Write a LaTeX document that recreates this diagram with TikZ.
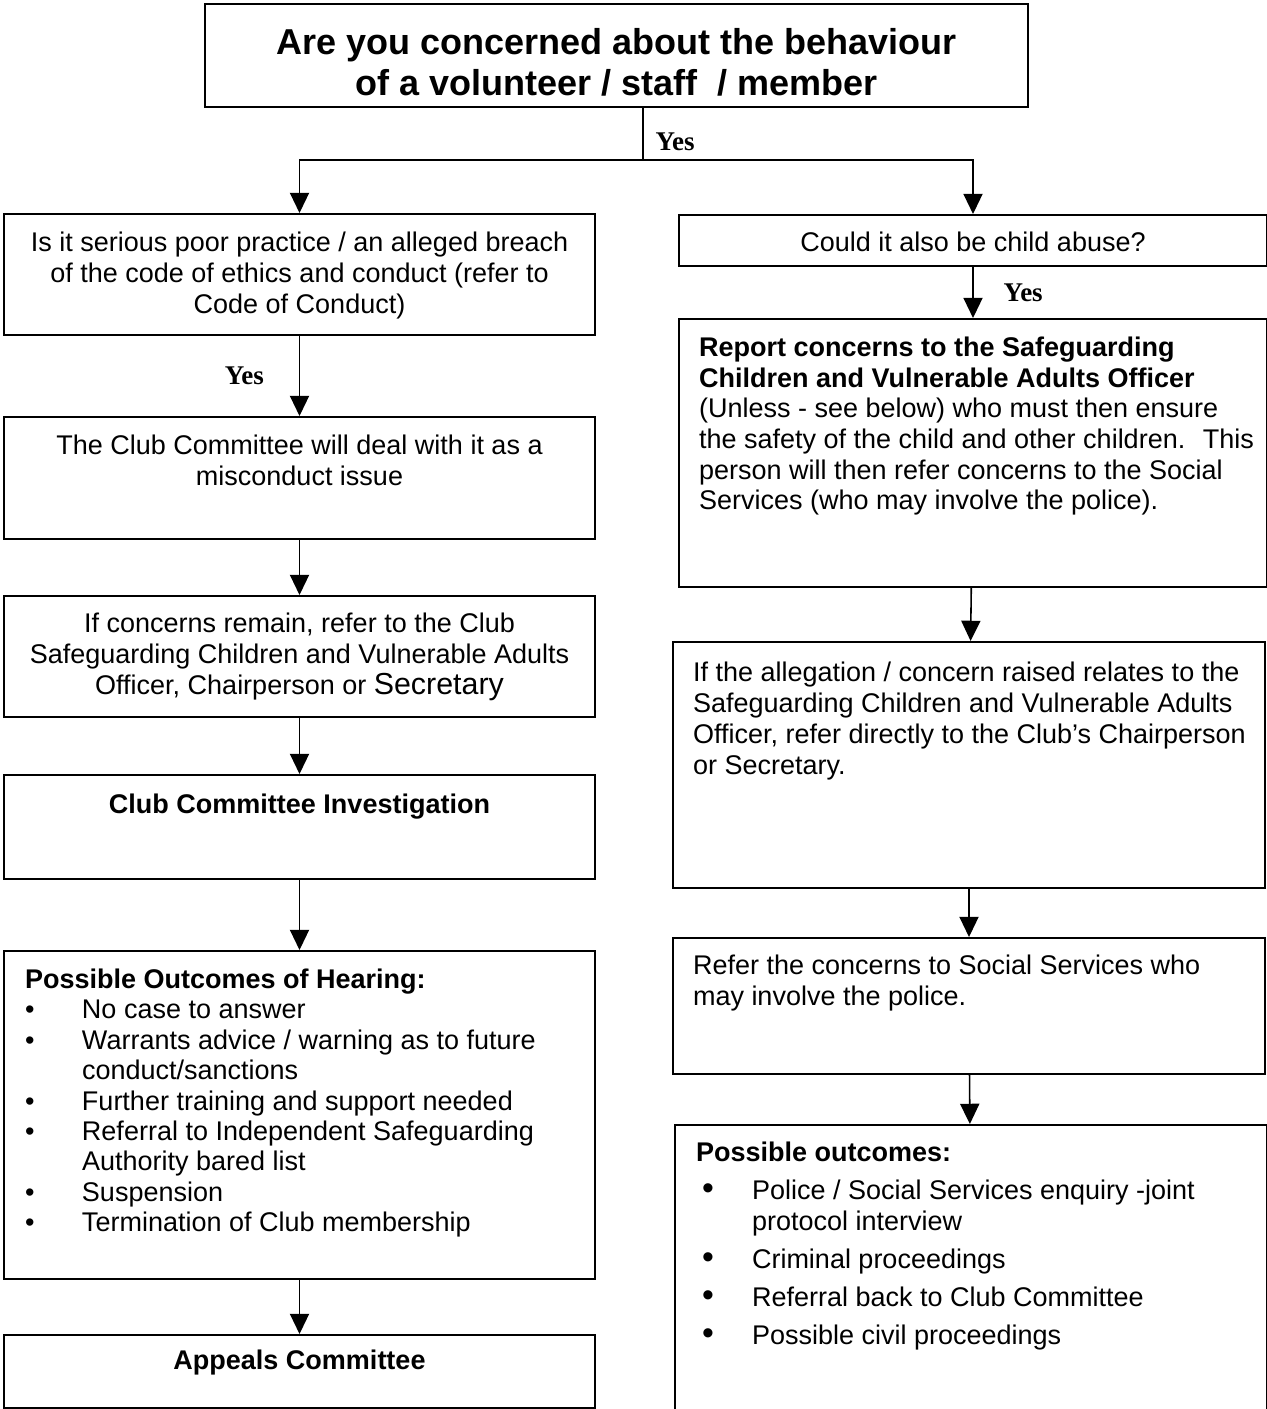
\documentclass[tikz,border=0pt]{standalone}
\usepackage{fontspec}
\setmainfont{Liberation Sans}
\newfontfamily\yesfont{Liberation Serif}
\usetikzlibrary{arrows.meta}
\newdimen\pxu \pxu=0.4444pt
\newcommand{\boxin}[4]{\parbox[t][#2\pxu][t]{#1\pxu}{\vspace*{#3\pxu}#4}}
\newcommand{\litem}[1]{\par\hangindent=57\pxu\relax\hangafter=1\relax\makebox[57\pxu][l]{\textbullet}#1}
\newcommand{\ritem}[1]{\par\hangindent=56\pxu\relax\hangafter=1\relax\makebox[56\pxu][l]{\hspace{6\pxu}{\fontsize{15}{15}\selectfont\textbullet}}#1}
\tikzstyle{stage} = [rectangle, draw=black, line width=0.9pt, inner sep=0pt, anchor=north west, font=\fontsize{12}{13.7}\selectfont]
\tikzstyle{link} = [draw=black, line width=0.7pt]
\tikzstyle{flow} = [link, -{Triangle[length=9pt,width=8.5pt]}]
\tikzstyle{answer} = [inner sep=0pt, font=\yesfont\fontsize{12}{14}\selectfont\bfseries]

\begin{document}
\begin{tikzpicture}[x=0.4444pt,y=-0.4444pt]
    \useasboundingbox (0,0) rectangle (1267,1409);
    \clip (0,0) rectangle (1267,1409);
    \node[stage] (T) at (204,3) {\boxin{823}{103}{24}{\centering\fontsize{16}{18.2}\selectfont\bfseries Are you concerned about the behaviour\\of a volunteer / staff~ / member}};
    \node[stage] (L1) at (3,213) {\boxin{591}{121}{18}{\centering Is it serious poor practice / an alleged breach\\of the code of ethics and conduct (refer to\\Code of Conduct)}};
    \node[stage] (L2) at (3,416) {\boxin{591}{122}{18}{\centering The Club Committee will deal with it as a\\misconduct issue}};
    \node[stage] (L3) at (3,595) {\boxin{591}{121}{17}{\centering If concerns remain, refer to the Club\\Safeguarding Children and Vulnerable Adults\\Officer, Chairperson or {\fontsize{13.5}{13.7}\selectfont Secretary}}};
    \node[stage] (L4) at (3,774) {\boxin{591}{104}{19}{\centering\bfseries Club Committee Investigation}};
    \node[stage] (L5) at (3,950) {\boxin{591}{328}{18}{\fontsize{12}{13.5}\selectfont\raggedright\leftskip=21\pxu\relax
        \textbf{Possible Outcomes of Hearing:}
        \litem{No case to answer}
        \litem{Warrants advice / warning as to future\newline conduct/sanctions}
        \litem{Further training and support needed}
        \litem{Referral to Independent Safeguarding\newline Authority bared list}
        \litem{Suspension}
        \litem{Termination of Club membership}}};
    \node[stage] (L6) at (3,1334) {\boxin{591}{73}{15}{\centering\bfseries Appeals Committee}};
    \node[stage] (R1) at (678,214) {\boxin{588}{51}{17}{\centering Could it also be child abuse?}};
    \node[stage] (R2) at (678,318) {\boxin{588}{268}{18}{\fontsize{12}{13.6}\selectfont\raggedright\leftskip=20\pxu\relax
        {\bfseries Report concerns to the Safeguarding\\Children and Vulnerable Adults Officer}\\(Unless - see below) who must then ensure\\the safety of the child and other children.~ This\\person will then refer concerns to the Social\\Services (who may involve the police).}};
    \node[stage] (R3) at (672,641) {\boxin{592}{246}{20}{\raggedright\leftskip=20\pxu\relax
        If the allegation / concern raised relates to the\\Safeguarding Children and Vulnerable Adults\\Officer, refer directly to the Club’s Chairperson\\or Secretary.}};
    \node[stage] (R4) at (672,937) {\boxin{592}{136}{17}{\raggedright\leftskip=20\pxu\relax
        Refer the concerns to Social Services who\\may involve the police.}};
    \node[stage] (R5) at (674,1124) {\boxin{592}{300}{17}{\fontsize{12}{13.6}\selectfont\raggedright\leftskip=21\pxu\relax
        \textbf{Possible outcomes:}\par\parskip=7.5\pxu\relax
        \ritem{Police / Social Services enquiry -joint\newline protocol interview}
        \ritem{Criminal proceedings}
        \ritem{Referral back to Club Committee}
        \ritem{Possible civil proceedings}}};
    \coordinate (split) at (643,160);
    \draw[link] (split |- T.south) -- node[answer,right=5.3pt,pos=0.65] {Yes} (split);
    \begin{scope}[flow]
        \draw (split) -| (L1);
        \draw (split) -| (R1);
        \draw (L1) -- node[answer,left=15.5pt] {Yes} (L2);
        \draw (L2) -- (L3);
        \draw (L3) -- (L4);
        \draw (L4) -- (L5);
        \draw (L5) -- (L6);
        \draw (R1) -- node[answer,right=13.3pt] {Yes} (R2);
        \draw (R2) -- (R3);
        \draw (R3) -- (R4);
        \draw (R4) -- (R5);
    \end{scope}
\end{tikzpicture}
\end{document}
